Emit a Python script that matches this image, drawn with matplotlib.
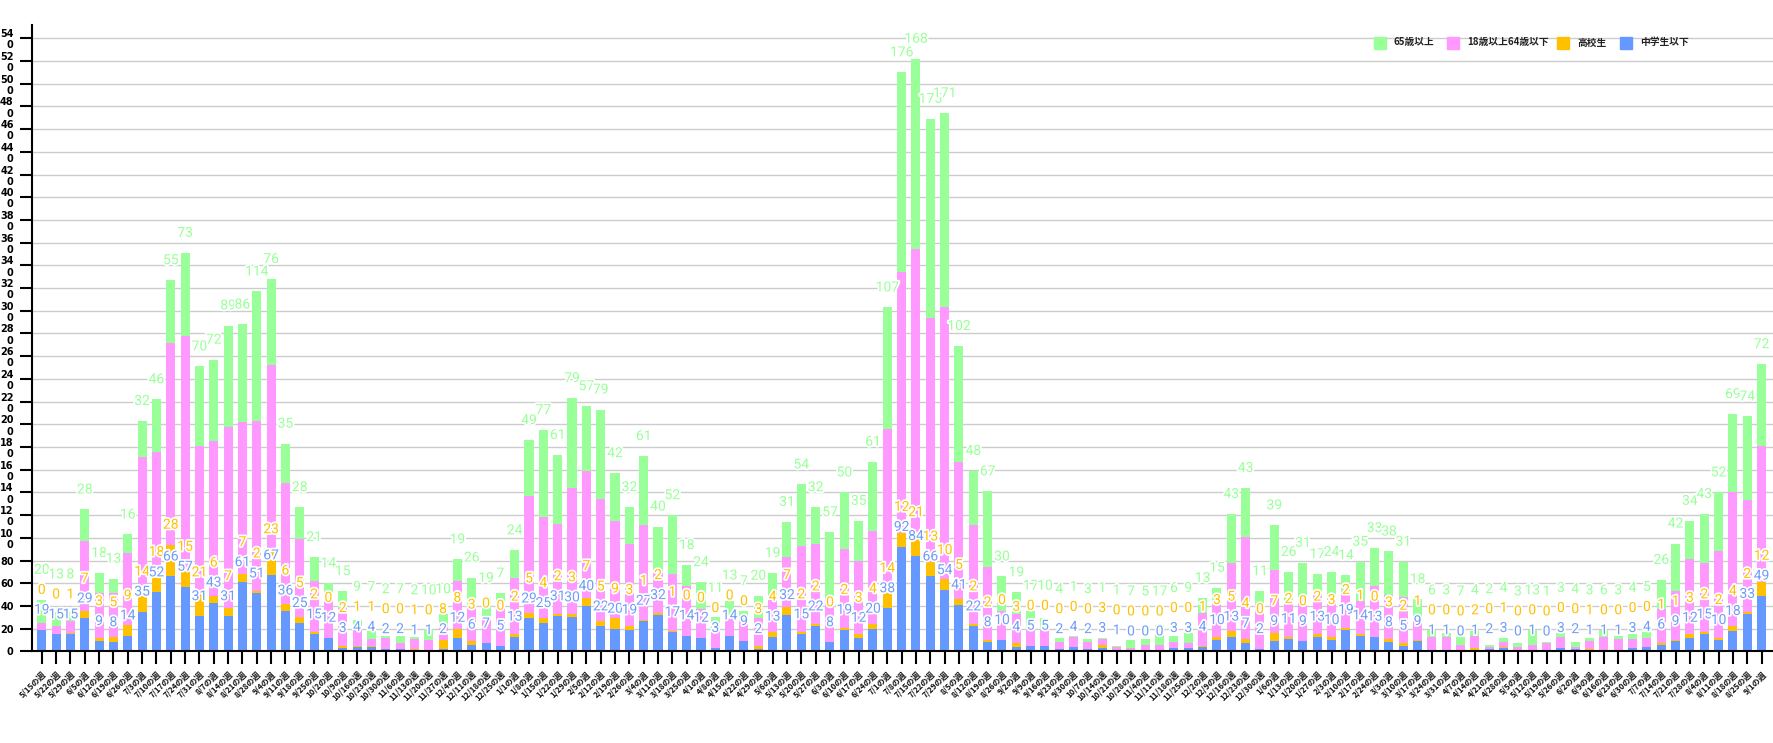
import matplotlib
matplotlib.use("Agg")
import matplotlib.pyplot as plt
import matplotlib.patheffects as pe
from matplotlib.patches import Rectangle

weeks = ["5/15", "5/22", "5/29", "6/5", "6/12", "6/19", "6/26", "7/3", "7/10", "7/17",
         "7/24", "7/31", "8/7", "8/14", "8/21", "8/28", "9/4", "9/11", "9/18", "9/25",
         "10/2", "10/9", "10/16", "10/23", "10/30", "11/6", "11/13", "11/20", "11/27", "12/4",
         "12/11", "12/18", "12/25", "1/1", "1/8", "1/15", "1/22", "1/29", "2/5", "2/12",
         "2/19", "2/26", "3/4", "3/11", "3/18", "3/25", "4/1", "4/8", "4/15", "4/22",
         "4/29", "5/6", "5/13", "5/20", "5/27", "6/3", "6/10", "6/17", "6/24", "7/1",
         "7/8", "7/15", "7/22", "7/29", "8/5", "8/12", "8/19", "8/26", "9/2", "9/9",
         "9/16", "9/23", "9/30", "10/7", "10/14", "10/21", "10/28", "11/4", "11/11", "11/18",
         "11/25", "12/2", "12/9", "12/16", "12/23", "12/30", "1/6", "1/13", "1/20", "1/27",
         "2/3", "2/10", "2/17", "2/24", "3/3", "3/10", "3/17", "3/24", "3/31", "4/7",
         "4/14", "4/21", "4/28", "5/5", "5/12", "5/19", "5/26", "6/2", "6/9", "6/16",
         "6/23", "6/30", "7/7", "7/14", "7/21", "7/28", "8/4", "8/11", "8/18", "8/25", "9/1"]
week_labels = [w + "の週" for w in weeks]

# 中学生以下
junior = [19, 15, 15, 29, 9, 8, 14, 35, 52, 66, 57, 31, 43, 31, 61, 51, 67, 36, 25, 15,
          12, 3, 4, 4, 2, 2, 1, 1, 2, 12, 6, 7, 5, 13, 29, 25, 31, 30, 40, 22,
          20, 19, 27, 32, 17, 14, 12, 3, 14, 9, 2, 13, 32, 15, 22, 8, 19, 12, 20, 38,
          92, 84, 66, 54, 41, 22, 8, 10, 4, 5, 5, 2, 4, 2, 3, 1, 0, 0, 0, 3,
          3, 4, 10, 13, 7, 2, 9, 11, 9, 13, 10, 19, 14, 13, 8, 5, 9, 1, 1, 0,
          1, 2, 3, 0, 1, 0, 3, 2, 1, 1, 1, 3, 4, 6, 9, 12, 15, 10, 18, 33, 49]
# 高校生
high = [0, 0, 1, 7, 3, 5, 9, 14, 18, 28, 15, 21, 6, 7, 7, 2, 23, 6, 5, 2,
        0, 2, 1, 1, 0, 0, 1, 0, 8, 8, 3, 0, 0, 2, 5, 4, 2, 3, 7, 5,
        9, 3, 1, 2, 1, 0, 0, 0, 0, 0, 3, 4, 7, 2, 2, 0, 2, 3, 4, 14,
        12, 21, 13, 10, 5, 2, 2, 0, 3, 0, 0, 0, 0, 0, 3, 0, 0, 0, 0, 0,
        0, 1, 3, 5, 4, 0, 7, 2, 0, 2, 3, 2, 1, 0, 3, 2, 1, 0, 0, 0,
        2, 0, 1, 0, 0, 0, 0, 0, 1, 0, 0, 0, 0, 1, 1, 3, 2, 2, 4, 2, 12]
# 18歳以上64歳以下
adult = [6, 7, 11, 61, 39, 38, 64, 122, 106, 178, 206, 129, 136, 160, 134, 150, 162, 106, 69, 45,
         34, 33, 14, 6, 10, 5, 9, 9, 13, 42, 30, 21, 39, 50, 103, 89, 79, 111, 112, 107,
         86, 73, 83, 36, 50, 44, 25, 16, 17, 20, 24, 33, 44, 76, 71, 40, 69, 65, 82, 144,
         230, 249, 215, 239, 121, 87, 64, 26, 26, 14, 14, 6, 9, 6, 5, 3, 3, 6, 6, 5,
         4, 29, 28, 60, 90, 40, 56, 31, 38, 36, 33, 32, 29, 45, 39, 41, 18, 12, 12, 6,
         11, 2, 4, 4, 5, 7, 10, 2, 7, 12, 10, 8, 8, 30, 43, 66, 61, 76, 118, 98, 120]
# 65歳以上
senior = [20, 13, 8, 28, 18, 13, 16, 32, 46, 55, 73, 70, 72, 89, 86, 114, 76, 35, 28, 21,
          14, 15, 9, 7, 2, 7, 2, 10, 10, 19, 26, 19, 7, 24, 49, 77, 61, 79, 57, 79,
          42, 32, 61, 40, 52, 18, 24, 11, 13, 7, 20, 19, 31, 54, 32, 57, 50, 35, 61, 107,
          176, 168, 175, 171, 102, 48, 67, 30, 19, 17, 10, 4, 1, 3, 1, 1, 7, 5, 17, 6,
          9, 13, 15, 43, 43, 11, 39, 26, 31, 17, 24, 14, 35, 33, 38, 31, 18, 6, 3, 7,
          4, 2, 4, 3, 13, 1, 3, 4, 3, 6, 3, 4, 5, 26, 42, 34, 43, 52, 69, 74, 72]

series_names = ["中学生以下", "高校生", "18歳以上64歳以下", "65歳以上"]
colors = ["#6699ff", "#ffc000", "#ff99ff", "#99ff99"]
label_colors = ["#6f9cf8", "#ffc000", None, "#99ff99"]

plt.rcParams['font.family'] = ['Noto Sans CJK JP', 'DejaVu Sans']

W, H = 1773, 743
fig = plt.figure(figsize=(W / 100, H / 100), dpi=100)
y0_px, top_px, left_px = 651.4, 25.0, 31.7
ax = fig.add_axes([left_px / W, (H - y0_px) / H, 1 - left_px / W, (y0_px - top_px) / H])
px_per_unit = 1.1354
ymax = (y0_px - top_px) / px_per_unit
ax.set_ylim(0, ymax)
n = len(weeks)
ax.set_xlim(-0.7, n - 0.2)

x = list(range(n))
data = [junior, high, adult, senior]
bottom = [0] * n
tops = []
for vals, col, name in zip(data, colors, series_names):
    ax.bar(x, vals, width=0.63, bottom=bottom, color=col, label=name, zorder=2)
    bottom = [b + v for b, v in zip(bottom, vals)]
    tops.append(list(bottom))

# value labels (pushed up when they collide)
off = 20 / px_per_unit
stroke = [pe.withStroke(linewidth=2.5, foreground="white")]
for i in range(n):
    prev = -1e9
    for k in (0, 1, 3):
        yv = max(tops[k][i] + off, prev + off)
        prev = yv
        ax.text(i, yv, str(data[k][i]), ha="center", va="center", fontsize=10,
                color=label_colors[k], family="Roboto", path_effects=stroke, zorder=5)

# axes styling
ax.set_yticks(range(0, 541, 20))
ylabels = []
for v in range(0, 541, 20):
    s = str(v)
    ylabels.append(s if v < 100 else s[:-1] + "\n" + s[-1])
ax.set_yticklabels(ylabels, fontsize=7, fontweight="bold", family="DejaVu Sans",
                   linespacing=1.15, multialignment="right")
ax.yaxis.grid(True, color="#cccccc", lw=1, zorder=0)
ax.set_axisbelow(True)
ax.set_xticks(x)
ax.set_xticklabels(week_labels, rotation=45, ha="right", rotation_mode="anchor",
                   fontsize=5.8, fontweight="bold", color="#111111")
ax.tick_params(axis="both", length=9, width=1.5, color="black")
ax.tick_params(axis="x", pad=4)
ax.tick_params(axis="y", pad=4)
for s in ("top", "right"):
    ax.spines[s].set_visible(False)
for s in ("left", "bottom"):
    ax.spines[s].set_linewidth(1.5)
    ax.spines[s].set_color("black")

# legend (manual, top right)
leg_items = [("65歳以上", colors[3], 1374, 1394), ("18歳以上64歳以下", colors[2], 1447, 1467),
             ("高校生", colors[1], 1557, 1577), ("中学生以下", colors[0], 1620, 1640)]
for txt, col, sx, tx in leg_items:
    fig.add_artist(Rectangle((sx / W, 1 - 48.7 / H), 12 / W, 12 / H, color=col,
                             transform=fig.transFigure))
    fig.text(tx / W, 1 - 42.5 / H, txt, fontsize=7, fontweight="bold", color="#222222",
             va="center", ha="left")

fig.savefig("out.png", dpi=100, facecolor="white")
